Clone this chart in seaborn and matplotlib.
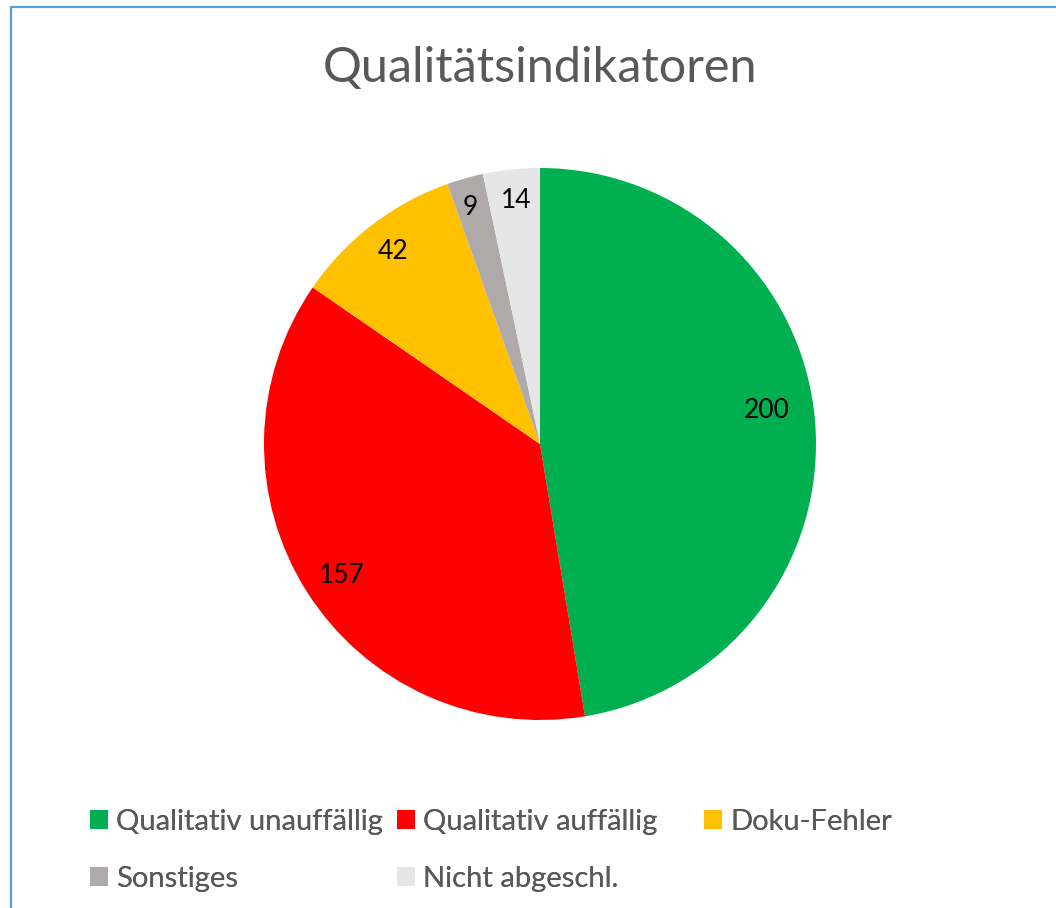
import matplotlib
matplotlib.use("Agg")
import matplotlib.pyplot as plt
import seaborn as sns
import numpy as np
from matplotlib.patches import Patch
from matplotlib.lines import Line2D

categories = ["Qualitativ unauffällig", "Qualitativ auffällig", "Doku-Fehler",
              "Sonstiges", "Nicht abgeschl."]
values = [200, 157, 42, 9, 14]
colors = ["#00B050", "#FF0000", "#FFC000", "#AEAAAA", "#E7E6E6"]
title = "Qualitätsindikatoren"

# data-label placement (style): radial fraction and small angular nudge (deg)
label_radius = [0.832, 0.86, 0.876, 0.895, 0.888]
label_nudge = [3.8, 1.1, -0.2, 0.7, -0.4]

sns.set_theme(style="white")
plt.rcParams['font.family'] = ['Lato', 'DejaVu Sans']

W, H = 1056, 908
fig = plt.figure(figsize=(W / 100, H / 100), dpi=100)
fig.patch.set_facecolor("white")

# pie axes: center (540,444) px, radius 276 px
cx, cy, r = 540, 444, 276
ax = fig.add_axes([(cx - r) / W, (H - cy - r) / H, 2 * r / W, 2 * r / H])
wedges, _ = ax.pie(values, colors=colors, startangle=90, counterclock=False,
                   radius=1.0, wedgeprops=dict(linewidth=0))
ax.set_xlim(-1, 1)
ax.set_ylim(-1, 1)
ax.set_aspect("equal")
ax.axis("off")

for w, v, lr, nd in zip(wedges, values, label_radius, label_nudge):
    ang = np.deg2rad((w.theta1 + w.theta2) / 2 + nd)
    ax.text(lr * np.cos(ang), lr * np.sin(ang), str(v), ha="center", va="center",
            fontsize=19, color="black")

fig.text(cx / W, 1 - 82 / H, title, ha="center", va="baseline", fontsize=35,
         color="#595959")

# border (left and top edges visible)
fig.add_artist(Line2D([11 / W, 11 / W], [0, 1 - 7 / H], transform=fig.transFigure,
                      color="#5B9BD5", linewidth=1.6))
fig.add_artist(Line2D([11 / W, 1], [1 - 7 / H, 1 - 7 / H], transform=fig.transFigure,
                      color="#5B9BD5", linewidth=1.6))

# legend: three equal-width columns
cols = [[0, 3], [1, 4], [2]]
col_x = [90, 397, 704]
for xs, idxs in zip(col_x, cols):
    handles = [Patch(facecolor=colors[i], edgecolor="none", label=categories[i]) for i in idxs]
    leg = fig.legend(handles=handles, loc="upper left",
                     bbox_to_anchor=(xs / W, 1 - 809 / H), frameon=False,
                     fontsize=21, handlelength=0.62, handleheight=0.62,
                     handletextpad=0.27, labelspacing=1.05, borderpad=0,
                     borderaxespad=0, labelcolor="#595959")
    fig.add_artist(leg)

fig.savefig("out.png", dpi=100, facecolor="white")
